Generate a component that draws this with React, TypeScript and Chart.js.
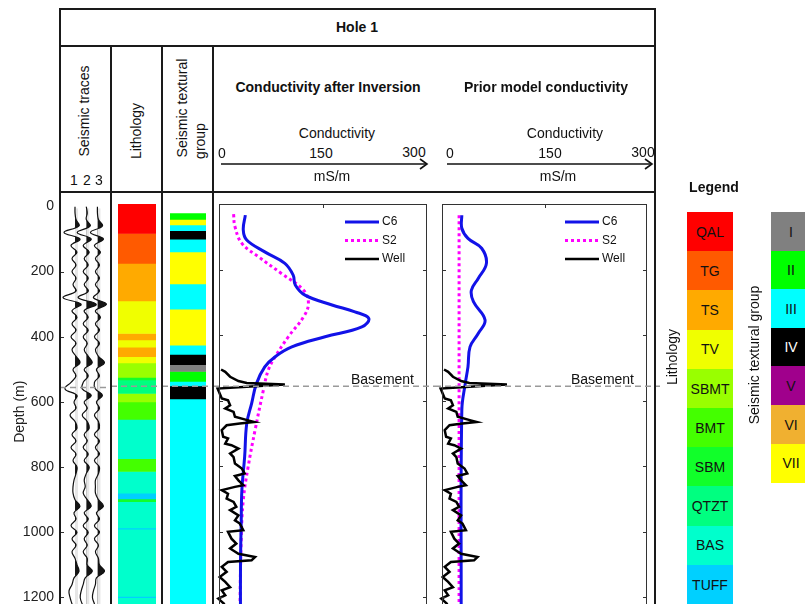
import React, { useEffect, useRef } from 'react';
import { Chart, registerables } from 'chart.js';
Chart.register(...registerables);

const FONT = '"Liberation Sans", Arial, Helvetica, sans-serif';

// ---------- data ----------
const DEPTH_MAX = 1260;
const depthStep = 200;
const BASEMENT_DEPTH = 556;

const traceNumbers = [1, 2, 3];
const traceStep = 20; // m between samples
const trace1 = [0, 0, 1, 4, -11, 5, -4, 2, -3, 1, -3, 1, -2, 1, -12, 6, -3, 2, -3, 1, -4, 1, -3, 1, 5, -2, 1, -4, -10, 2, -1, 1, -5, 0, 2, -3, 1, -4, 1, -2, 2, 1, -1, -2, -2, 0, 5, -1, 1, -4, 2, -3, 1, -3, 0, 2, 4, -1, -3, -6, -5, -3, -1];
const trace2 = [0, 1, 0, 4, -9, 5, -3, 3, -2, 2, -3, 2, -2, 2, -8, 10, -2, 2, -3, 2, -3, 1, -2, 2, 6, -2, 2, -3, -4, 5, -2, 1, -4, 1, 3, -2, 1, -3, 2, -2, 3, 0, -2, -1, -3, 1, 5, -2, 2, -3, 2, -2, 1, -3, 1, 1, 6, -1, -3, -5, -6, -4, -1];
const trace3 = [0, 0, 1, 5, -7, 6, -3, 3, -2, 2, -2, 2, -2, 2, -4, 9, -2, 3, -2, 2, -3, 2, -2, 1, 7, -1, 2, -3, -2, 5, -1, 2, -3, 1, 2, -3, 2, -2, 2, -3, 2, 1, -2, -2, -2, 1, 6, -1, 2, -3, 2, -3, 1, -2, 1, 2, 7, -1, -2, -4, -5, -3, -1];
const traceAmps = [trace1, trace2, trace3];
const TRACE_GAIN = 1 / 11.2;

const lithoNames = ['QAL', 'TG', 'TS', 'TV', 'SBMT', 'BMT', 'SBM', 'QTZT', 'BAS', 'TUFF'];
const lithoColors = ['#FF0000', '#FF5A00', '#FFAA00', '#F0FF00', '#99FF00', '#44FF00', '#11FF2A', '#00FF80', '#00FFCC', '#00D0FF'];
const lithoTops = [0, 90, 181, 296, 395, 415, 437, 466, 485, 529, 537, 578, 604, 657, 777, 816, 882, 900, 908, 988, 992, 1197, 1201];
const lithoUnits = ['QAL', 'TG', 'TS', 'TV', 'TS', 'TV', 'TS', 'TV', 'SBMT', 'SBM', 'QTZT', 'SBMT', 'BMT', 'BAS', 'BMT', 'BAS', 'TUFF', 'SBM', 'BAS', 'TUFF', 'BAS', 'TUFF', 'BAS'];

const groupNames = ['I', 'II', 'III', 'IV', 'V', 'VI', 'VII'];
const groupColors = ['#808080', '#00FF00', '#00FFFF', '#000000', '#A0008C', '#F0B030', '#FFFF00'];
const groupLabelColors = ['#111', '#111', '#111', '#fff', '#111', '#111', '#111'];
const groupTops = [29, 47, 64, 81, 107, 146, 244, 321, 431, 459, 490, 511, 541, 555, 595];
const groupUnits = ['II', 'VII', 'III', 'IV', 'III', 'VII', 'III', 'VII', 'III', 'IV', 'I', 'II', 'III', 'IV', 'III'];

const convTickLabels = ['0', '150', '300'];
const CONV_MAX = 300;

const c6InvDepth = [34, 79, 110, 146, 181, 217, 247, 278, 308, 329, 349, 375, 405, 436, 466, 497, 548, 609, 670, 771, 873, 975, 1100, 1260];
const c6InvCond = [38, 35, 40, 66, 95, 107, 110, 124, 163, 196, 216, 206, 153, 105, 81, 66, 54, 47, 40, 37, 33, 32, 31, 31];
const s2InvDepth = [31, 69, 120, 161, 212, 263, 303, 344, 405, 466, 507, 568, 690, 802, 904, 1026, 1260];
const s2InvCond = [21, 23, 33, 57, 90, 122, 129, 122, 100, 81, 71, 64, 52, 42, 35, 32, 30];

const c6PriorDepth = [34, 74, 105, 135, 181, 227, 263, 298, 354, 395, 436, 497, 548, 629, 1260];
const c6PriorCond = [29, 29, 38, 58, 65, 53, 43, 46, 63, 53, 41, 38, 34, 29, 28];
const s2PriorDepth = [34, 1260];
const s2PriorCond = [25, 25];

const wellDepth = [505, 512, 527, 540, 546, 551, 556, 563, 578, 593, 599, 614, 624, 634, 649, 660, 665, 670, 675, 690, 710, 715, 731, 736, 746, 761, 772, 792, 807, 822, 830, 843, 858, 863, 873, 884, 899, 909, 924, 934, 950, 965, 975, 995, 1000, 1021, 1036, 1051, 1067, 1077, 1087, 1092, 1107, 1122, 1138, 1153, 1169, 1179, 1194, 1204, 1219, 1240];
const wellCond = [3, 9, 16, 28, 40, 95, 52, -2, 1, 4, 13, 16, 9, 21, 23, 42, 51, 30, 11, 4, 6, 13, 9, 18, 28, 16, 21, 23, 33, 37, 23, 28, 35, 23, 4, 13, 11, 21, 25, 16, 28, 23, 30, 35, 13, 18, 25, 16, 28, 52, 47, 13, 4, 11, 1, 9, 16, 4, 9, -1, 7, 3];

const legendOrder = ['C6', 'S2', 'Well'];

// ---------- layout constants ----------
const CANVAS_TOP = 192;
const CANVAS_H = 440;
const PAD_TOP = 12;
const PAD_BOTTOM = 15;

// ---------- plugin ----------
const decoPlugin: any = {
  id: 'deco',
  beforeDatasetsDraw(chart: any, _a: any, o: any) {
    if (!o || !o.traceFill) return;
    const { ctx, chartArea: a, scales } = chart;
    chart.data.datasets.forEach((ds: any, i: number) => {
      if (ds.baseline === undefined) return;
      const meta = chart.getDatasetMeta(i);
      const line = meta.dataset;
      const pts = meta.data;
      if (!line || !pts.length) return;
      const bx = scales.x.getPixelForValue(ds.baseline);
      ctx.save();
      ctx.fillStyle = '#e6e6e6';
      ctx.fillRect(bx, a.top + 2, 3, a.bottom - a.top);
      ctx.beginPath();
      ctx.rect(bx, a.top, a.right - bx, a.bottom - a.top);
      ctx.clip();
      ctx.beginPath();
      line.path(ctx);
      ctx.lineTo(bx, pts[pts.length - 1].y);
      ctx.lineTo(bx, pts[0].y);
      ctx.closePath();
      ctx.fillStyle = o.traceFill;
      ctx.fill();
      ctx.restore();
    });
  },
  afterDatasetsDraw(chart: any, _a: any, o: any) {
    if (!o) return;
    const { ctx, chartArea: a, scales } = chart;
    const y = scales.y;
    const x = scales.x;
    ctx.save();
    if (o.border) {
      ctx.strokeStyle = '#333';
      ctx.lineWidth = 1;
      ctx.strokeRect(Math.round(a.left) + 0.5, Math.round(a.top) + 0.5, Math.round(a.right - a.left) - 1, Math.round(a.bottom - a.top) + 20);
    }
    if (o.innerTicks) {
      ctx.strokeStyle = '#333';
      ctx.lineWidth = 1;
      ctx.beginPath();
      y.ticks.forEach((t: any) => {
        if (t.value <= y.min) return;
        const py = Math.round(y.getPixelForValue(t.value)) + 0.5;
        ctx.moveTo(a.left, py);
        ctx.lineTo(a.left + 4, py);
        if (o.border) {
          ctx.moveTo(a.right, py);
          ctx.lineTo(a.right - 4, py);
        }
      });
      (o.topTicks || []).forEach((v: number) => {
        const px = Math.round(x.getPixelForValue(v)) + 0.5;
        ctx.moveTo(px, a.top);
        ctx.lineTo(px, a.top + 4);
      });
      ctx.stroke();
    }
    if (o.basement !== undefined) {
      const py = y.getPixelForValue(o.basement);
      ctx.setLineDash([6, 4]);
      ctx.strokeStyle = '#9a9a9a';
      ctx.lineWidth = 1.5;
      ctx.beginPath();
      ctx.moveTo(o.basementFromArea ? a.left : 0, py);
      ctx.lineTo(chart.width, py);
      ctx.stroke();
      ctx.setLineDash([]);
      if (o.basementLabel) {
        ctx.font = `14px ${FONT}`;
        ctx.fillStyle = '#111';
        ctx.textAlign = 'right';
        ctx.textBaseline = 'alphabetic';
        ctx.fillText(o.basementLabel, a.right - 13, py - 2);
      }
    }
    if (o.legend) {
      ctx.font = `12px ${FONT}`;
      ctx.textBaseline = 'middle';
      ctx.textAlign = 'left';
      o.legend.forEach((label: string, k: number) => {
        const ds = chart.data.datasets.find((d: any) => d.label === label);
        if (!ds) return;
        const ly = a.top + 18 + k * 18.5;
        const x0 = a.right - 82;
        ctx.strokeStyle = ds.borderColor;
        ctx.lineWidth = ds.borderWidth;
        ctx.setLineDash(ds.borderDash || []);
        ctx.beginPath();
        ctx.moveTo(x0, ly);
        ctx.lineTo(x0 + 34, ly);
        ctx.stroke();
        ctx.setLineDash([]);
        ctx.fillStyle = '#111';
        ctx.fillText(label, x0 + 37, ly);
      });
    }
    ctx.restore();
  },
};

const baseOptions = (padLeft: number, padRight: number) => ({
  animation: false as const,
  responsive: false,
  devicePixelRatio: 1,
  layout: { padding: { left: padLeft, right: padRight, top: PAD_TOP, bottom: PAD_BOTTOM } },
});

const depthScale = (extra: any = {}) => ({
  type: 'linear',
  reverse: true,
  min: 0,
  max: DEPTH_MAX,
  ticks: { stepSize: depthStep, includeBounds: false },
  ...extra,
});

// ---------- chart configs ----------
function tracesConfig(): any {
  return {
    type: 'scatter',
    data: {
      datasets: traceAmps.map((amps, k) => ({
        label: 'Trace ' + traceNumbers[k],
        data: amps.map((v, i) => ({ x: traceNumbers[k] + v * TRACE_GAIN, y: i * traceStep })),
        showLine: true,
        borderColor: '#111',
        borderWidth: 1.2,
        pointRadius: 0,
        tension: 0.4,
        baseline: traceNumbers[k],
      })),
    },
    options: {
      ...baseOptions(0, 0),
      plugins: {
        legend: { display: false },
        tooltip: { enabled: false },
        deco: { traceFill: '#151515', innerTicks: true, basement: BASEMENT_DEPTH, basementFromArea: true },
      },
      scales: {
        x: { type: 'linear', display: false, min: -0.34, max: 4.21 },
        y: {
          type: 'linear',
          reverse: true,
          min: 0,
          max: DEPTH_MAX,
          afterFit: (s: any) => { s.width = 60; },
          ticks: {
            stepSize: depthStep,
            includeBounds: false,
            padding: 6,
            color: '#222',
            font: { size: 14, family: FONT },
            callback: (v: any) => String(v),
          },
          grid: { drawOnChartArea: false, drawTicks: false },
          border: { display: false },
          title: {
            display: true,
            text: 'Depth (m)',
            color: '#222',
            font: { size: 14, family: FONT },
            padding: { top: 12, bottom: 0 },
          },
        },
      },
    },
    plugins: [decoPlugin],
  };
}

function columnConfig(tops: number[], units: string[], names: string[], colors: string[], padL: number, padR: number): any {
  return {
    type: 'bar',
    data: {
      labels: ['col'],
      datasets: tops.map((top, i) => ({
        label: units[i],
        data: [[top, i < tops.length - 1 ? tops[i + 1] : DEPTH_MAX]],
        backgroundColor: colors[names.indexOf(units[i])],
        borderWidth: 0,
        grouped: false,
        barPercentage: 1,
        categoryPercentage: 1,
      })),
    },
    options: {
      ...baseOptions(padL, padR),
      plugins: {
        legend: { display: false },
        tooltip: { enabled: false },
        deco: { basement: BASEMENT_DEPTH },
      },
      scales: {
        x: { display: false },
        y: depthScale({ display: false }),
      },
    },
    plugins: [decoPlugin],
  };
}

function panelConfig(c6d: number[], c6v: number[], s2d: number[], s2v: number[], padL: number, padR: number): any {
  const pts = (d: number[], v: number[]) => d.map((dd, i) => ({ x: v[i], y: dd }));
  return {
    type: 'scatter',
    data: {
      datasets: [
        { label: 'Well', data: pts(wellDepth, wellCond), showLine: true, borderColor: '#000', borderWidth: 2.5, pointRadius: 0, tension: 0, clip: 6 },
        { label: 'C6', data: pts(c6d, c6v), showLine: true, borderColor: '#1212E8', borderWidth: 3, pointRadius: 0, tension: 0.4 },
        { label: 'S2', data: pts(s2d, s2v), showLine: true, borderColor: '#FF00FF', borderWidth: 3, borderDash: [3, 3], pointRadius: 0, tension: 0.4 },
      ],
    },
    options: {
      ...baseOptions(padL, padR),
      plugins: {
        legend: { display: false },
        tooltip: { enabled: false },
        deco: {
          border: true,
          innerTicks: true,
          topTicks: [150],
          basement: BASEMENT_DEPTH,
          basementLabel: 'Basement',
          legend: legendOrder,
        },
      },
      scales: {
        x: { type: 'linear', display: false, min: 0, max: CONV_MAX },
        y: depthScale({ display: false }),
      },
    },
    plugins: [decoPlugin],
  };
}

// ---------- components ----------
function ChartCanvas({ left, width, make }: { left: number; width: number; make: () => any }) {
  const ref = useRef<HTMLCanvasElement>(null);
  useEffect(() => {
    const c = new Chart(ref.current as HTMLCanvasElement, make());
    return () => c.destroy();
  }, []);
  return (
    <canvas
      ref={ref}
      width={width}
      height={CANVAS_H}
      style={{ position: 'absolute', left, top: CANVAS_TOP, width, height: CANVAS_H }}
    />
  );
}

function T({ x, y, children, size = 14, bold = false, rot = false, color = '#111' }: any) {
  return (
    <div
      style={{
        position: 'absolute',
        left: x,
        top: y,
        transform: `translate(-50%,-50%)${rot ? ' rotate(-90deg)' : ''}`,
        fontSize: size,
        fontWeight: bold ? 700 : 400,
        whiteSpace: 'nowrap',
        lineHeight: 1,
        color,
      }}
    >
      {children}
    </div>
  );
}

function HLine({ x, y, w }: { x: number; y: number; w: number }) {
  return <div style={{ position: 'absolute', left: x, top: y - 1, width: w, height: 2, background: '#1a1a1a' }} />;
}
function VLine({ x, y, h }: { x: number; y: number; h: number }) {
  return <div style={{ position: 'absolute', left: x - 1, top: y, width: 2, height: h, background: '#1a1a1a' }} />;
}

function Arrow({ x0, x1, y }: { x0: number; x1: number; y: number }) {
  return (
    <svg style={{ position: 'absolute', left: 0, top: 0, overflow: 'visible' }} width={805} height={604}>
      <line x1={x0} y1={y} x2={x1} y2={y} stroke="#111" strokeWidth={1.6} />
      <polyline points={`${x1 - 7},${y - 5} ${x1},${y} ${x1 - 7},${y + 5}`} fill="none" stroke="#111" strokeWidth={1.6} />
    </svg>
  );
}

export default function App() {
  const lithoBoxH = 39.2;
  const groupBoxH = 38.6;
  return (
    <div
      style={{
        position: 'fixed',
        left: 0,
        top: 0,
        width: 805,
        height: 604,
        overflow: 'hidden',
        background: '#fff',
        fontFamily: FONT,
        color: '#111',
      }}
    >
      <ChartCanvas left={0} width={111} make={tracesConfig} />
      <ChartCanvas left={111} width={51} make={() => columnConfig(lithoTops, lithoUnits, lithoNames, lithoColors, 7, 6)} />
      <ChartCanvas left={162} width={51} make={() => columnConfig(groupTops, groupUnits, groupNames, groupColors, 8, 7)} />
      <ChartCanvas left={213} width={222} make={() => panelConfig(c6InvDepth, c6InvCond, s2InvDepth, s2InvCond, 6, 8)} />
      <ChartCanvas left={435} width={225} make={() => panelConfig(c6PriorDepth, c6PriorCond, s2PriorDepth, s2PriorCond, 7, 13)} />

      {/* frame */}
      <HLine x={59} y={9} w={597} />
      <HLine x={59} y={46} w={597} />
      <HLine x={59} y={192} w={597} />
      <VLine x={60} y={8} h={600} />
      <VLine x={655} y={8} h={600} />
      <VLine x={111} y={46} h={560} />
      <VLine x={162} y={46} h={560} />
      <VLine x={213} y={46} h={560} />

      {/* header texts */}
      <T x={357} y={27} bold size={14}>Hole 1</T>
      <T x={84} y={111} rot>Seismic traces</T>
      <T x={74} y={180}>1</T>
      <T x={87} y={180}>2</T>
      <T x={99} y={180}>3</T>
      <T x={136} y={131} rot>Lithology</T>
      <T x={182} y={108} rot>Seismic textural</T>
      <T x={200} y={141} rot>group</T>

      <T x={328} y={87} bold>Conductivity after Inversion</T>
      <T x={337} y={133}>Conductivity</T>
      <T x={222} y={153}>{convTickLabels[0]}</T>
      <T x={321} y={153}>{convTickLabels[1]}</T>
      <T x={414} y={152}>{convTickLabels[2]}</T>
      <Arrow x0={221} x1={427} y={164} />
      <T x={332} y={176}>mS/m</T>

      <T x={546} y={87} bold>Prior model conductivity</T>
      <T x={565} y={133}>Conductivity</T>
      <T x={450} y={153}>{convTickLabels[0]}</T>
      <T x={550} y={153}>{convTickLabels[1]}</T>
      <T x={643} y={152}>{convTickLabels[2]}</T>
      <Arrow x0={447} x1={652} y={164} />
      <T x={558} y={176}>mS/m</T>

      {/* right legend */}
      <T x={714} y={187} bold>Legend</T>
      <T x={672} y={357} rot>Lithology</T>
      {lithoNames.map((n, i) => (
        <div
          key={n}
          style={{
            position: 'absolute',
            left: 687,
            top: 212 + i * lithoBoxH,
            width: 46,
            height: lithoBoxH + 0.5,
            background: lithoColors[i],
            display: 'flex',
            alignItems: 'center',
            justifyContent: 'center',
            fontSize: 14,
          }}
        >
          {n}
        </div>
      ))}
      <T x={754} y={355} rot>Seismic textural group</T>
      {groupNames.map((n, i) => (
        <div
          key={n}
          style={{
            position: 'absolute',
            left: 771,
            top: 212 + i * groupBoxH,
            width: 40,
            height: groupBoxH + 0.5,
            background: groupColors[i],
            color: groupLabelColors[i],
            display: 'flex',
            alignItems: 'center',
            justifyContent: 'center',
            fontSize: 14,
          }}
        >
          {n}
        </div>
      ))}
    </div>
  );
}
